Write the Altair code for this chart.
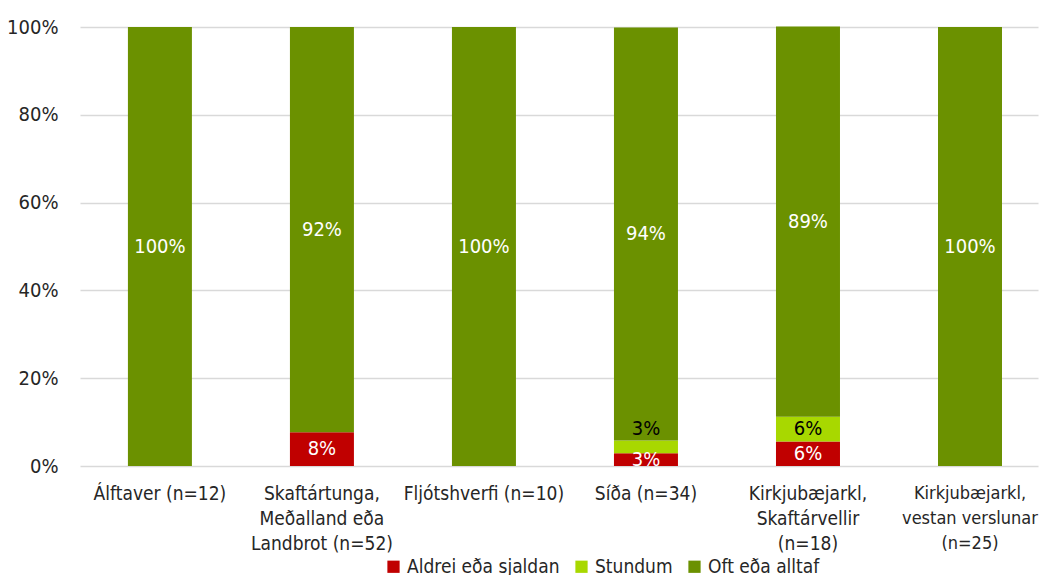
import altair as alt
import pandas as pd

categories = [
    "Álftaver (n=12)",
    "Skaftártunga,\nMeðalland eða\nLandbrot (n=52)",
    "Fljótshverfi (n=10)",
    "Síða (n=34)",
    "Kirkjubæjarkl,\nSkaftárvellir\n(n=18)",
    "Kirkjubæjarkl,\nvestan verslunar\n(n=25)",
]
series = ["Aldrei eða sjaldan", "Stundum", "Oft eða alltaf"]
aldrei = [0, 7.7, 0, 2.9, 5.6, 0]
stundum = [0, 0, 0, 2.9, 5.6, 0]
oft = [100, 92.3, 100, 94.1, 88.9, 100]
colors = ["#C00000", "#A8D800", "#6B9100"]
label_colors = ["white", "black", "white"]

rows = []
for i, c in enumerate(categories):
    for j, (s, vals) in enumerate(zip(series, [aldrei, stundum, oft])):
        rows.append({"cat": c, "series": s, "order": j, "value": vals[i] / 100.0,
                     "lab": f"{round(vals[i])}%", "lcol": label_colors[j]})
df = pd.DataFrame(rows)

FONT = "DejaVu Sans Condensed, Roboto Condensed, Liberation Sans, sans-serif"
FS = 20

base = alt.Chart(df).encode(
    x=alt.X("cat:N", sort=categories, title=None,
            scale=alt.Scale(paddingInner=0.605, paddingOuter=0.259, align=0.571),
            axis=alt.Axis(labelAngle=0, labelExpr="split(datum.label, '\\n')",
                          labelLimit=300, labelFont=FONT,
                          labelFontSize={"condition": {"test": "indexof(datum.value, 'vestan') >= 0",
                                                       "value": 18}, "value": 19},
                          labelColor="#262626", labelLineHeight=25, labelPadding=18,
                          ticks=False, domain=False, grid=False)),
)

bars = base.mark_bar().encode(
    y=alt.Y("value:Q", stack="zero", title=None,
            scale=alt.Scale(domain=[0, 1]),
            axis=alt.Axis(format=".0%", values=[0, 0.2, 0.4, 0.6, 0.8, 1.0],
                          labelFont=FONT, labelFontSize=FS, labelColor="#262626",
                          labelPadding=22, ticks=False, domain=False,
                          gridColor="#D9D9D9", gridWidth=1.5)),
    color=alt.Color("series:N", sort=series, title=None,
                    scale=alt.Scale(domain=series, range=colors),
                    legend=alt.Legend(orient="none", legendX=304, legendY=530,
                                      direction="horizontal", symbolType="square",
                                      symbolSize=150, symbolStrokeWidth=0,
                                      labelFont=FONT, labelFontSize=19, labelLimit=400,
                                      labelColor="#262626", columnPadding=12,
                                      labelOffset=4, padding=0)),
    order=alt.Order("order:Q", sort="ascending"),
)

stacked = base.transform_filter("datum.value > 0").transform_stack(
    stack="value", groupby=["cat"], as_=["y0", "y1"],
    sort=[alt.SortField("order", order="ascending")],
).transform_calculate(mid="(datum.y0 + datum.y1) / 2")

labels = stacked.transform_filter(
    "!(datum.cat == 'Síða (n=34)' && datum.series == 'Stundum')"
).mark_text(font=FONT, fontSize=FS, baseline="middle").encode(
    y=alt.Y("mid:Q"),
    text=alt.Text("lab:N"),
    color=alt.Color("lcol:N", scale=None),
)

labels_shift = stacked.transform_filter(
    "datum.cat == 'Síða (n=34)' && datum.series == 'Stundum'"
).mark_text(font=FONT, fontSize=FS, baseline="middle", dy=-18).encode(
    y=alt.Y("mid:Q"),
    text=alt.Text("lab:N"),
    color=alt.Color("lcol:N", scale=None),
)

chart = alt.layer(bars, labels, labels_shift).properties(
    width=958, height=439,
    autosize=alt.AutoSizeParams(type="none"),
    padding={"left": 72, "top": 19, "right": 1, "bottom": 109},
).configure_view(stroke=None)

chart.save("out.html", embed_options={"renderer": "svg", "actions": False})
